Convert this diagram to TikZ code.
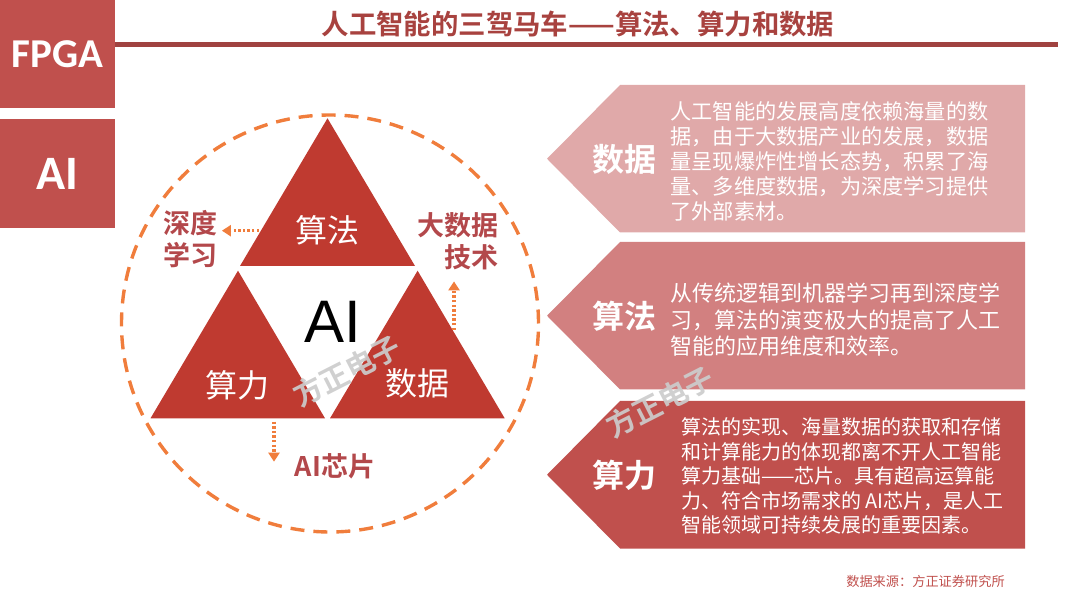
\documentclass[tikz,border=0pt]{standalone}
\usepackage{fontspec}
\setmainfont{Noto Sans CJK SC}[BoldFont={Noto Sans CJK SC Bold}]
\newfontfamily\tabfont{Carlito}
\newfontfamily\aifont{Liberation Sans}
\usetikzlibrary{arrows.meta}
\definecolor{tabred}{HTML}{C0504D}
\definecolor{titlered}{HTML}{A8423F}
\definecolor{linered}{HTML}{A04240}
\definecolor{trired}{HTML}{BF3A30}
\definecolor{lblred}{HTML}{B3484B}
\definecolor{dashorange}{HTML}{F07D3C}
\definecolor{panelA}{HTML}{E0A9A9}
\definecolor{panelB}{HTML}{D28080}
\definecolor{panelC}{HTML}{C0504D}
\definecolor{markgray}{HTML}{CCCCCC}
\begin{document}
\begin{tikzpicture}[x=0.5pt, y=-0.5pt,
		tabtxt/.style={text=white, font=\tabfont\bfseries\fontsize{20.5}{21}\selectfont},
		tritxt/.style={text=white, font=\fontsize{16}{16}\selectfont},
		lbl/.style={text=lblred, font=\bfseries\fontsize{13.5}{16}\selectfont, inner sep=0pt},
		dotarrow/.style={dashorange, line width=1.6pt, dash pattern=on 1.2pt off 1.1pt, -{Triangle[length=4.5pt, width=5.5pt]}},
		ptitle/.style={text=white, font=\bfseries\fontsize{16}{16}\selectfont},
		ptext/.style={text=white, align=left, anchor=west, inner sep=0pt},
		wmark/.style={text=markgray, opacity=0.92, rotate=27, font=\bfseries\fontsize{14.5}{15}\selectfont}]
		\useasboundingbox (0, 0) rectangle (1080, 608);
		% side tabs and title
		\fill[tabred] (0, 0) rectangle (115, 108);
		\fill[tabred] (0, 119) rectangle (115, 228);
		\node[tabtxt] (fpga) at (57.5, 54) {FPGA};
		\node[tabtxt, font=\tabfont\bfseries\fontsize{24}{24}\selectfont] (ai) at (57.5, 173.5) {AI};
		\node[text=titlered, font=\bfseries\fontsize{13.7}{14}\selectfont] (title) at (578, 24) {人工智能的三驾马车——算法、算力和数据};
		\draw[linered, line width=2.5pt] (115, 44.2) -- (1058, 44.2);
		% circle and triangles
		\draw[dashorange, line width=1.7pt, dash pattern=on 7pt off 4.5pt] (330, 323.5) circle[radius=104.25pt];
		\fill[trired] (327.5, 118.3) -- (415, 266) -- (240, 266) -- cycle;
		\fill[trired] (238, 270.7) -- (325, 418.3) -- (150.5, 418.3) -- cycle;
		\fill[trired] (417.6, 270.7) -- (504.7, 418.3) -- (330, 418.3) -- cycle;
		\node[tritxt] (suanfa) at (327.5, 230) {算法};
		\node[tritxt] (suanli) at (237, 385) {算力};
		\node[tritxt] (shuju) at (417.6, 383.3) {数据};
		\node[font=\aifont\fontsize{30}{30}\selectfont] (core) at (333, 321.7) {AI};
		% labels round the triangles
		\node[lbl, align=left] (shendu) at (190.5, 239) {深度\\学习};
		\node[lbl, align=right] (dsj) at (457.5, 241.3) {大数据\\技术};
		\node[lbl] (chip) at (335, 466.7) {AI芯片};
		\coordinate (sfa) at (259, 230.7);
		\coordinate (sja) at (454, 330);
		\coordinate (sla) at (274, 421.7);
		\draw[dotarrow, shorten >=2pt] (sfa) -- (sfa -| shendu.east);
		\draw[dotarrow, shorten >=5.5pt] (sja) -- (sja |- dsj.south);
		\draw[dotarrow, shorten >=2.5pt] (sla) -- (sla |- chip.center);
		% right panels
		\foreach \ytop/\pcol in {85/panelA, 242/panelB, 401/panelC}{
			\fill[\pcol] (547, \ytop + 73.75) -- (620, \ytop) -- (1025, \ytop) -- (1025, \ytop + 147.5) -- (620, \ytop + 147.5) -- cycle;
		}
		\node[ptitle] (tdata) at (624.5, 159) {数据};
		\node[ptitle] (talg) at (624.5, 316.7) {算法};
		\node[ptitle] (tpow) at (624.5, 475) {算力};
		\node[ptext, font=\fontsize{10.6}{12.5}\selectfont] (xdata) at (670, 161.7) {人工智能的发展高度依赖海量的数\\据，由于大数据产业的发展，数据\\量呈现爆炸性增长态势，积累了海\\量、多维度数据，为深度学习提供\\了外部素材。};
		\node[ptext, font=\fontsize{11}{13.25}\selectfont] (xalg) at (670, 320) {从传统逻辑到机器学习再到深度学\\习，算法的演变极大的提高了人工\\智能的应用维度和效率。};
		\node[ptext, font=\fontsize{10}{12.3}\selectfont] (xpow) at (680.7, 476) {算法的实现、海量数据的获取和存储\\和计算能力的体现都离不开人工智能\\算力基础——芯片。具有超高运算能\\力、符合市场需求的 AI芯片，是人工\\智能领域可持续发展的重要因素。};
		% watermarks and source
		\node[wmark] (wm1) at (347, 371) {方正电子};
		\node[wmark] (wm2) at (660, 402) {方正电子};
		\node[text=tabred, font=\fontsize{6.6}{7}\selectfont] (src) at (925.5, 581.7) {数据来源：方正证券研究所};
	\end{tikzpicture}
\end{document}
